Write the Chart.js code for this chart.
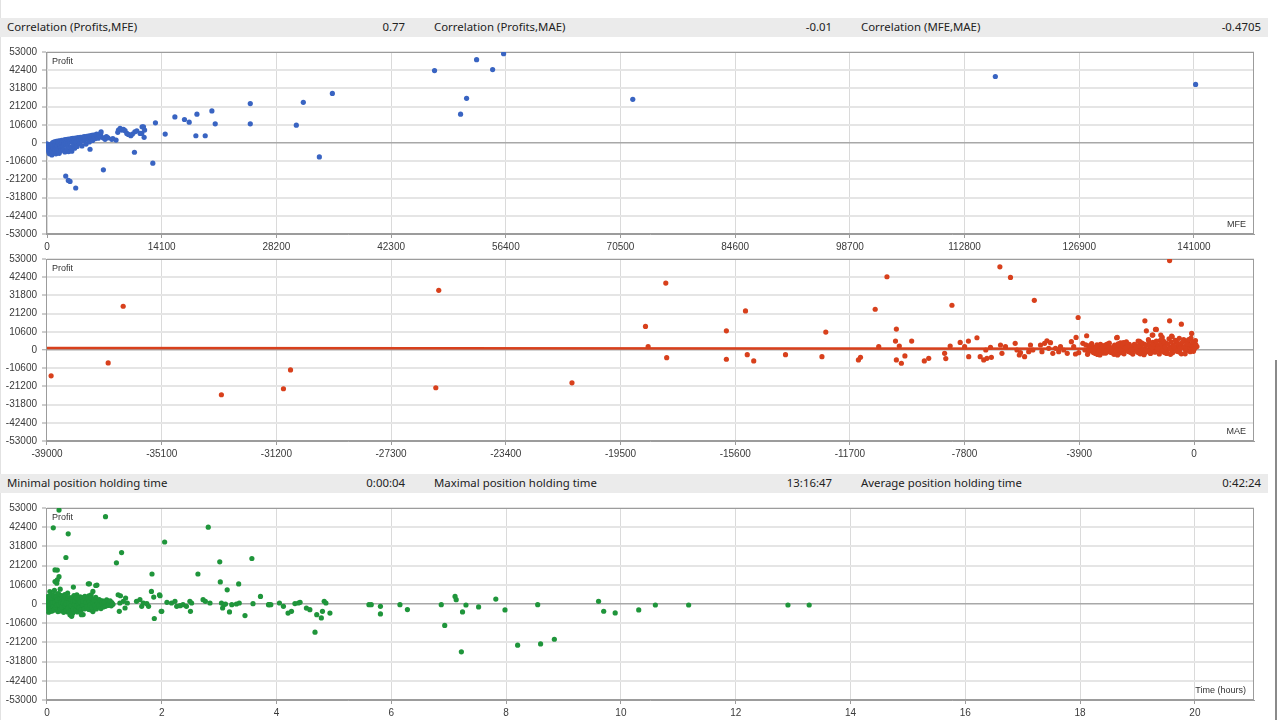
<!DOCTYPE html>
<html>
<head>
<meta charset="utf-8">
<script src="https://cdn.jsdelivr.net/npm/chart.js@4/dist/chart.umd.min.js"></script>
<style>
  body { margin: 0; width: 1280px; height: 720px; overflow: hidden; position: relative; background: #fff; }
  .bar { position: absolute; left: 0; width: 1268px; height: 19px; background: #ebebeb; font: 11.4px "Noto Sans", sans-serif; color: #222; }
  .bar span { position: absolute; top: 1px; white-space: nowrap; }
  .bar .v { text-align: right; }
  canvas { position: absolute; left: 0; }
  #scroll { position: absolute; left: 1275px; top: 360px; width: 2px; height: 360px; background: #8a8a8a; }
  #edge { position: absolute; left: 0; top: 0; width: 1px; height: 720px; background: #e2e2e2; }
</style>
</head>
<body>
<div id="edge"></div>
<div class="bar" id="bar1" style="top:18px"></div>
<canvas id="mfeChart" width="1262" height="213" style="top:41px"></canvas>
<canvas id="maeChart" width="1262" height="213" style="top:248px"></canvas>
<div class="bar" id="bar2" style="top:474px"></div>
<canvas id="timeChart" width="1262" height="223" style="top:497px"></canvas>
<div id="scroll"></div>
<script>
// header rows
const corrLabels = ["Correlation (Profits,MFE)", "Correlation (Profits,MAE)", "Correlation (MFE,MAE)"];
const corrValues = ["0.77", "-0.01", "-0.4705"];
const holdLabels = ["Minimal position holding time", "Maximal position holding time", "Average position holding time"];
const holdValues = ["0:00:04", "13:16:47", "0:42:24"];

// tick labels
const profitTicks = [-53000, -42400, -31800, -21200, -10600, 0, 10600, 21200, 31800, 42400, 53000];
const mfeTicks = [0, 14100, 28200, 42300, 56400, 70500, 84600, 98700, 112800, 126900, 141000];
const maeTicks = [-39000, -35100, -31200, -27300, -23400, -19500, -15600, -11700, -7800, -3900, 0];
const hourTicks = [0, 2, 4, 6, 8, 10, 12, 14, 16, 18, 20];

// [MFE, profit]
const mfePoints = [
  [0,-500],[100,-1500],[150,-3000],[200,-4500],[250,-5500],[300,-2000],[300,-6200],[400,-3800],[450,-800],[500,-5000],
  [550,-2500],[600,-7000],[650,-4200],[700,300],[750,-1500],[800,-3200],[850,-5600],[900,600],[950,-2400],[1000,-4000],
  [1050,-700],[1100,-6300],[1150,900],[1200,-3000],[1250,-1800],[1300,-5000],[1350,1100],[1400,-300],[1450,-3500],[1500,-6000],
  [1550,1300],[1600,-1200],[1650,-2600],[1700,-4500],[1800,1500],[1850,200],[1900,-2000],[2000,-3800],[2050,1700],[2100,-800],
  [2200,-5200],[2250,2000],[2300,600],[2400,-1500],[2450,-4200],[2500,2100],[2600,-300],[2650,-5000],[2700,2300],[2800,1000],
  [2900,-2600],[3000,2500],[3050,-4800],[3100,400],[3200,2700],[3300,-1200],[3350,1500],[3400,-3000],[3500,2900],[3600,800],
  [3700,-2000],[3800,3100],[3900,1900],[4000,-300],[4100,3300],[4200,2200],[4300,-1700],[4400,3500],[4500,1200],[4600,3700],
  [4700,2700],[4800,-600],[4900,3900],[5000,2000],[5100,4000],[5200,600],[5300,4200],[5400,3000],[5500,4400],[5600,1500],
  [5700,4600],[5800,3500],[5900,2500],[6000,4800],[6100,5200],[6200,3800],[6300,2800],[6400,5000],[6500,4200],[6600,5600],
  [6650,6530],[6650,3640],[6900,3000],[7140,2120],[7300,3800],[7500,3000],[7960,2120],[8100,2600],[8490,1730],[8700,6200],
  [8780,7510],[8990,8490],[9200,7500],[9400,7900],[9600,7200],[9810,5600],[10000,5000],[10300,4220],[10500,5200],[10800,6500],
  [11040,7110],[11450,5600],[11650,5600],[11690,9420],[11860,9430],[11940,3280],[12000,7500],
  [5290,-3640],[6930,-15600],[3530,-26200],[2830,-22400],[2620,-21800],[2300,-19250],[10750,-5380],[13010,-11730],
  [13330,11730],[14530,5200],[15720,15200],[16900,13700],[17480,12140],[18430,16760],[18300,4220],[19450,4220],
  [20270,18670],[20680,11160],[24990,22950],[24990,11160],[30650,10400],[31510,23700],[33480,-8090],[35080,28900],
  [47640,42190],[50840,16760],[51580,26010],[52810,48550],[54780,42770],[56130,52020],[72010,25430],[116580,38730],[141200,34100]
];

// [MAE, profit]
const maePoints = [
  [-38860,-15050],[-36920,-7530],[-36410,25480],[-33070,-26060],[-30960,-22580],[-30720,-11580],[-25680,34740],[-25780,-22000],[-21150,-19110],
  [-18650,13720],[-18560,1910],[-17960,38970],[-17930,-4460],[-15900,11180],[-15900,-5400],[-15250,22760],[-15190,-2700],[-14970,-6370],
  [-13890,-2700],[-12650,-3860],[-12520,10420],[-11410,-5790],[-11340,-4250],[-10840,23740],[-10720,1910],[-10440,42670],[-10120,12160],
  [-10150,5210],[-10020,2320],[-10120,-5790],[-9950,-7720],[-9830,-3470],[-9600,5210],[-9170,-6370],[-9020,-4830],[-8480,-1930],
  [-8440,-5020],[-8290,2320],[-8230,26060],[-7950,4440],[-7800,1930],[-7670,5210],[-7660,-3860],[-7380,7140],[-7270,-3860],
  [-7150,-5790],[-7040,-4830],[-6890,-4250],[-7080,0],[-6920,1540],[-6600,48460],[-6580,2900],[-6530,-1930],[-6410,1930],
  [-6240,42270],[-6080,3860],[-6020,0],[-5940,-2900],[-5900,-1540],[-5760,-3860],[-5560,2900],[-5620,-960],[-5480,0],
  [-5430,28950],[-5220,2900],[-5170,-980],[-5080,3860],[-5000,5400],[-4880,4250],[-4940,960],[-4800,-1930],[-4710,960],
  [-4600,-980],[-4540,1930],[-4430,0],[-4310,-1930],[-4170,4830],[-4090,1930],[-4030,-2320],[-3940,18930],[-3920,-1540],
  [-3780,3860],[-3710,0],[-4010,7330],[-3650,8300],
  [-3600,-1500],[-3550,2500],[-3500,500],[-3450,-800],[-3400,1500],[-3350,-2000],[-3300,3000],[-3250,0],[-3200,1000],
  [-3150,-1200],[-3100,2200],[-3050,-300],[-3000,600],[-2950,3500],[-2900,-900],[-2850,1500],[-2800,300],[-2750,-1800],
  [-2700,2800],[-2650,800],[-2630,7140],[-2600,-500],[-2550,1800],[-2500,4200],[-2450,-1200],[-2400,1000],[-2350,2500],
  [-2300,-200],[-2250,600],[-2200,3300],[-2150,-1500],[-2100,1500],[-2050,200],[-2000,2700],[-1950,-700],[-1900,900],
  [-1850,5000],[-1800,1900],[-1750,-300],[-1700,3500],[-1670,16980],[-1650,700],[-1620,11180],[-1600,-1000],[-1550,6000],
  [-1500,2300],[-1450,400],[-1420,8690],[-1400,4500],[-1350,-600],[-1300,1700],[-1280,11970],[-1250,3000],[-1200,200],
  [-1150,5500],[-1130,8690],[-1100,1000],[-1050,-900],[-1000,2500],[-950,4000],[-900,300],[-850,6500],[-830,16980],
  [-830,52110],[-800,1500],[-760,8110],[-750,-500],[-700,3000],[-650,800],[-600,5000],[-550,2000],[-500,-300],
  [-450,3800],[-430,15050],[-400,1200],[-350,6000],[-300,400],[-250,2500],[-200,4500],[-150,800],[-100,7000],
  [-80,9650],[-50,1800],[0,3500],[0,500],[50,5500],[100,2000],[-2300,4700],[-1900,-1500],[-1000,-1500],[-500,-1200],
  [-3000,-1800],[-150,3000],[-250,5200],[-600,1000],[-1200,2000],[-2000,600],
  [-3680,3000],[-3620,-2500],[-3580,1000],[-3520,-300],[-3480,3800],[-3420,-1500],[-3380,600],[-3320,2000],[-3280,-2600],
  [-3220,-500],[-3180,3300],[-3120,1200],[-3080,-1800],[-3020,2800],[-2980,-600],[-2920,1800],[-2880,4000],[-2820,-1400],
  [-2780,900],[-2720,-2500],[-2680,1900],[-2620,-200],[-2580,3600],[-2520,-1700],[-2480,500],[-2420,2600],[-2380,-2200],
  [-2330,1400],[-2280,3800],[-2230,-900],[-2180,2000],[-2130,300],[-2080,-2400],[-2030,3300],[-1980,1000],[-1930,-600],
  [-1880,2600],[-1830,-2200],[-1780,4200],[-1730,700],[-1680,-1700],[-1630,2800],[-1580,-300],[-1530,4800],[-1480,-2000],
  [-1430,1400],[-1380,3200],[-1330,-1300],[-1280,5200],[-1230,800],[-1180,-2300],[-1130,3600],[-1080,7340],[-1080,-400],
  [-1030,5000],[-980,1800],[-930,-2000],[-880,3300],[-830,600],[-780,4800],[-740,7720],[-730,-1600],[-680,2000],
  [-630,5600],[-580,-800],[-530,3600],[-480,1000],[-430,-2200],[-380,4600],[-330,2000],[-280,-600],[-230,3400],
  [-180,6000],[-130,-1000],[-90,2800],[-40,4600],[-20,-800],[30,1200],[60,3200],[-1400,8690],[-1310,11970],[-2610,7330],
  [-3200,-2900],[-2600,-2900],[-1700,-2700],[-800,-2500],[-300,-2200],[-1900,5200],[-1100,6300],[-500,6800],[-2400,4300]
];
const maeTrend = [[-39000, 1100], [0, 800]];

// [holding hours, profit]
const timePoints = [
  [0.01,500],[0.02,-1500],[0.02,2500],[0.03,-3000],[0.03,800],[0.04,4000],[0.04,-500],[0.05,1500],[0.05,-2200],[0.05,6900],
  [0.06,-4000],[0.06,200],[0.07,3000],[0.07,-1200],[0.08,1000],[0.08,-2800],[0.09,5000],[0.09,-400],[0.10,2000],[0.10,-3500],
  [0.11,600],[0.11,3800],[0.12,-1800],[0.12,1500],[0.13,-600],[0.13,7500],[0.14,2500],[0.14,-2500],[0.15,300],[0.15,4500],
  [0.16,-1000],[0.16,1800],[0.17,-3200],[0.17,900],[0.18,3200],[0.18,-200],[0.19,5500],[0.19,-2000],[0.20,1200],[0.20,-800],
  [0.21,2800],[0.22,-3800],[0.22,400],[0.23,8200],[0.23,-1400],[0.24,2000],[0.25,-2600],[0.25,700],[0.26,4200],[0.27,-500],
  [0.27,1600],[0.28,-3300],[0.29,3000],[0.30,100],[0.30,-1700],[0.31,5200],[0.32,1000],[0.33,-2300],[0.34,2400],[0.35,-800],
  [0.36,6000],[0.36,-4400],[0.37,1300],[0.38,-1500],[0.39,3500],[0.40,300],[0.41,-2700],[0.42,2000],[0.43,-6190],[0.44,800],
  [0.45,-4910],[0.46,9330],[0.47,-1000],[0.48,3800],[0.50,500],[0.51,-2000],[0.52,5000],[0.53,1500],[0.55,-3000],[0.56,2200],
  [0.57,-500],[0.58,4000],[0.60,800],[0.61,-1800],[0.62,2600],[0.63,-5820],[0.64,1000],[0.66,-300],[0.67,3200],[0.68,-2400],
  [0.70,1800],[0.72,11140],[0.72,-800],[0.73,4500],[0.75,500],[0.76,-3200],[0.77,5090],[0.78,2000],[0.79,-1200],[0.80,6920],
  [0.81,800],[0.82,-2600],[0.84,3000],[0.85,-400],[0.87,10430],[0.88,1200],[0.89,-1500],[0.91,2400],[0.93,300],[0.95,-800],
  [0.97,1800],[0.99,600],[1.01,-300],[1.03,1500],[1.05,500],[1.07,-600],[1.09,1200],[1.11,0],[1.13,800],[1.15,-200],
  [0.02,4200],[0.03,-4500],[0.04,1800],[0.05,-800],[0.06,3300],[0.07,-2600],[0.08,5200],[0.08,200],[0.09,-3900],[0.10,600],
  [0.11,-1400],[0.12,4600],[0.13,-3200],[0.14,1000],[0.14,12410],[0.15,-1900],[0.16,3800],[0.17,-700],[0.18,2300],[0.19,-4200],
  [0.20,5800],[0.21,-300],[0.22,3000],[0.23,-2900],[0.24,900],[0.25,4700],[0.26,-1600],[0.27,3800],[0.28,600],[0.29,-4600],
  [0.30,2600],[0.31,-900],[0.32,4400],[0.33,200],[0.34,-3600],[0.35,1900],[0.36,3300],[0.37,-2100],[0.38,600],[0.39,-4100],
  [0.40,-5870],[0.41,2700],[0.42,-900],[0.43,-6800],[0.44,3600],[0.45,1200],[0.46,-2800],[0.47,4600],[0.48,-300],[0.49,1800],
  [0.50,-3800],[0.51,3200],[0.52,-1000],[0.53,-4400],[0.54,2400],[0.55,600],[0.56,-2100],[0.58,1300],[0.59,-3500],[0.60,-5870],
  [0.61,3600],[0.62,-600],[0.63,1500],[0.65,-2700],[0.66,4200],[0.68,900],[0.69,-1400],[0.71,2900],[0.73,-3000],[0.74,1100],
  [0.75,-600],[0.77,3300],[0.78,-2000],[0.80,1000],[0.80,-4200],[0.82,2200],[0.83,-1000],[0.85,3700],[0.86,-2700],[0.88,500],
  [0.90,-1200],[0.92,2000],[0.94,-2500],[0.96,800],[0.98,-1600],[1.00,1000],[1.02,-1300],[1.04,2300],[1.06,-800],[1.08,300],
  [1.10,1800],[1.12,-1000],[0.85,10210],[0.74,11150],[0.14,18830],
  [0.21,51870],[0.11,42040],[0.37,38770],[0.33,25660],[0.18,18750],[0.21,15100],[0.18,13290],[0.17,11470],[1.02,48230],
  [1.21,22750],[1.30,28390],[1.83,16560],[1.87,-8010],[2.05,34220],[2.63,16560],[2.81,42400],[3.01,23300],[3.02,12190],
  [3.14,7830],[3.34,11100],[3.57,25120],[3.72,4190],[3.45,-6370],[3.18,-4370],[3.87,-360],
  [1.24,5100],[1.28,4550],[1.37,3280],[1.82,6920],[1.86,3820],[1.96,5090],[1.97,4550],[1.99,-4000],[2.0,-4060],
  [1.27,550],[1.33,1460],[1.40,550],[1.26,-4030],[1.36,-2200],[1.56,1460],[1.62,2380],[1.68,550],[1.74,180],[1.65,-1280],
  [1.77,-1280],[2.09,920],[2.17,550],[2.23,1460],[2.26,-1280],[2.32,-920],[2.37,-370],[2.43,-1280],[2.49,1460],[2.52,550],
  [2.50,-4030],[2.72,2380],[2.76,1460],[2.84,550],[3.04,550],[3.08,-370],[3.11,0],[3.06,-2200],[3.22,-370],[3.30,0],
  [3.35,550],[3.59,180],[3.86,-370],[3.90,-370],
  [4.05,550],[4.12,-1300],[4.20,-5000],[4.26,-4060],[4.32,220],[4.38,550],[4.41,900],[4.52,-2230],[4.58,-3140],[4.67,-15560],
  [4.70,-5880],[4.78,-7700],[4.80,-4040],[4.83,1450],[4.86,550],[4.93,-5000],[5.61,-360],[5.65,-360],[5.81,-1270],[5.81,-5460],
  [6.15,-360],[6.28,-3090],[6.87,-360],[6.93,-11830],[7.11,4190],[7.13,2370],[7.22,-26390],[7.24,-4370],[7.30,-550],[7.52,-1640],
  [7.82,2730],[7.98,-3280],[8.20,-22750],[8.55,-360],[8.60,-22020],[8.84,-19470],[9.61,1460],[9.70,-4000],[9.90,-4910],
  [10.31,-3280],[10.60,-550],[11.18,-550],[12.91,-550],[13.28,-550]
];

const BLUE = "#3964c2";
const RED = "#d8401c";
const GREEN = "#1f953b";
const TICK_FONT = { family: "'Liberation Sans', Arial, sans-serif", size: 10 };

function fillBar(id, labels, values) {
  const bar = document.getElementById(id);
  labels.forEach(function (t, i) {
    const l = document.createElement("span");
    l.textContent = t;
    l.style.left = (7 + i * 427) + "px";
    bar.appendChild(l);
    const v = document.createElement("span");
    v.className = "v";
    v.textContent = values[i];
    v.style.right = (1268 - 405 - i * 427 - (i === 2 ? 2 : 0)) + "px";
    bar.appendChild(v);
  });
}
fillBar("bar1", corrLabels, corrValues);
fillBar("bar2", holdLabels, holdValues);

// frame round the plot area + the little axis names inside it
const framePlugin = {
  id: "frame",
  beforeDatasetsDraw(chart) {
    const a = chart.chartArea, ctx = chart.ctx;
    ctx.save();
    ctx.strokeStyle = "#9c9c9c";
    ctx.lineWidth = 1;
    ctx.strokeRect(a.left + 0.5, a.top + 0.5, a.right - a.left - 1, a.bottom - a.top - 1);
    ctx.restore();
  },
  afterDraw(chart, args, opts) {
    const a = chart.chartArea, ctx = chart.ctx;
    ctx.save();
    ctx.font = "9px 'Liberation Sans', Arial, sans-serif";
    ctx.fillStyle = "#333";
    ctx.textBaseline = "middle";
    ctx.textAlign = "left";
    ctx.fillText(opts.yName, a.left + 6, a.top + 10);
    ctx.textAlign = "right";
    ctx.fillText(opts.xName, a.right - 8, a.bottom - 9);
    ctx.restore();
  }
};

function makeChart(id, color, points, xTicks, xMin, xMax, xName, extra) {
  const datasets = [{
    data: points.map(function (p) { return { x: p[0], y: p[1] }; }),
    backgroundColor: color,
    borderWidth: 0,
    pointRadius: 2.6,
    order: 0
  }];
  if (extra) datasets.push(extra);
  return new Chart(document.getElementById(id), {
    type: "scatter",
    data: { datasets: datasets },
    plugins: [framePlugin],
    options: {
      responsive: false,
      animation: false,
      devicePixelRatio: 1,
      events: [],
      layout: { padding: { top: 7, right: 8, left: 0, bottom: 0 } },
      plugins: {
        legend: { display: false },
        tooltip: { enabled: false },
        frame: { yName: "Profit", xName: xName }
      },
      scales: {
        x: {
          type: "linear",
          min: xMin,
          max: xMax,
          afterFit: function (s) { s.height = 20; },
          afterBuildTicks: function (s) { s.ticks = xTicks.map(function (v) { return { value: v }; }); },
          grid: { color: "#dadada", lineWidth: 1, tickLength: 4, tickColor: "#9c9c9c", tickWidth: 1 },
          border: { color: "#9c9c9c" },
          ticks: { color: "#3a3a3a", font: TICK_FONT, padding: 3, maxRotation: 0, autoSkip: false,
            callback: function (v) { return String(v); } }
        },
        y: {
          type: "linear",
          min: -53000,
          max: 53000,
          afterFit: function (s) { s.width = 46; },
          afterBuildTicks: function (s) { s.ticks = profitTicks.map(function (v) { return { value: v }; }); },
          grid: {
            color: function (c) { return c.tick && c.tick.value === 0 ? "#a8a8a8" : "#e5e5e5"; },
            lineWidth: function (c) { return c.tick && c.tick.value === 0 ? 1.5 : 2; },
            tickLength: 4, tickColor: "#9c9c9c", tickWidth: 1
          },
          border: { color: "#9c9c9c" },
          ticks: { color: "#3a3a3a", font: TICK_FONT, padding: 5, autoSkip: false,
            callback: function (v) { return String(Math.round(v)); } }
        }
      }
    }
  });
}

makeChart("mfeChart", BLUE, mfePoints, mfeTicks, -123, 148376, "MFE");
makeChart("maeChart", RED, maePoints, maeTicks, -39034, 2040, "MAE", {
  data: maeTrend.map(function (p) { return { x: p[0], y: p[1] }; }),
  showLine: true,
  borderColor: RED,
  borderWidth: 2.5,
  pointRadius: 0,
  order: 1
});
makeChart("timeChart", GREEN, timePoints, hourTicks, -0.017, 21.03, "Time (hours)");
</script>
</body>
</html>
